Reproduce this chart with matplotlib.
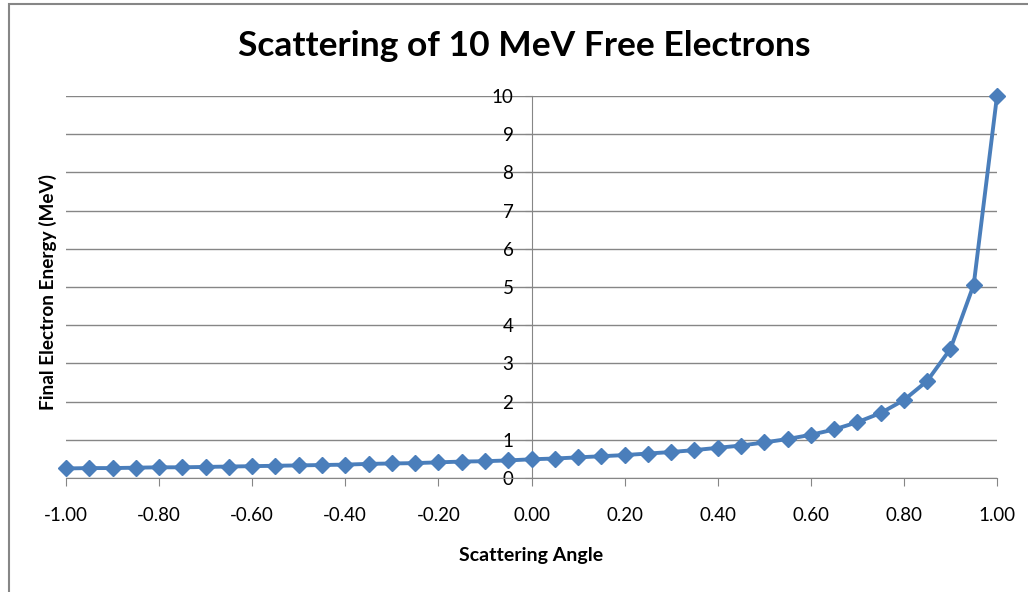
import matplotlib.pyplot as plt
from matplotlib.patches import Rectangle

plt.rcParams['font.family'] = ['Lato', 'DejaVu Sans']

# scattering angle (cosine) and final energy in MeV
angle = [-1.00, -0.95, -0.90, -0.85, -0.80, -0.75, -0.70, -0.65, -0.60, -0.55,
         -0.50, -0.45, -0.40, -0.35, -0.30, -0.25, -0.20, -0.15, -0.10, -0.05,
         0.00, 0.05, 0.10, 0.15, 0.20, 0.25, 0.30, 0.35, 0.40, 0.45,
         0.50, 0.55, 0.60, 0.65, 0.70, 0.75, 0.80, 0.85, 0.90, 0.95, 1.00]
energy = [0.25, 0.26, 0.26, 0.27, 0.28, 0.28, 0.29, 0.30, 0.31, 0.32,
          0.33, 0.34, 0.35, 0.37, 0.38, 0.39, 0.41, 0.43, 0.44, 0.46,
          0.49, 0.51, 0.54, 0.57, 0.60, 0.64, 0.68, 0.73, 0.79, 0.85,
          0.93, 1.02, 1.13, 1.27, 1.46, 1.70, 2.04, 2.54, 3.38, 5.06, 10.00]
xticks = [-1.0, -0.8, -0.6, -0.4, -0.2, 0.0, 0.2, 0.4, 0.6, 0.8, 1.0]
yticks = list(range(0, 11))

blue = '#4A7EBB'
gray = '#868686'

fig = plt.figure(figsize=(10.28, 5.92), dpi=100)
ax = fig.add_axes([66/1028, 1 - 478/592, (997 - 66)/1028, (478 - 96)/592])

ax.plot(angle, energy, color=blue, lw=2.8, marker='D', ms=8.5, mec=blue, mfc=blue,
        zorder=3, clip_on=False)

ax.set_xlim(-1, 1)
ax.set_ylim(0, 10)
ax.set_xticks(xticks)
ax.set_xticklabels([f'{t:.2f}' for t in xticks])
ax.set_yticks(yticks)
ax.yaxis.grid(True, color=gray, lw=1)
ax.set_axisbelow(True)

for s in ['top', 'right']:
    ax.spines[s].set_visible(False)
ax.spines['left'].set_position(('data', 0))
ax.spines['left'].set_color(gray)
ax.spines['bottom'].set_color(gray)
ax.tick_params(axis='x', direction='out', length=6, color=gray, pad=15,
               labelsize=13.5, labelcolor='black')
ax.tick_params(axis='y', direction='out', length=5, color=gray, pad=8,
               labelsize=13.5, labelcolor='black')

fig.text(524/1028, 1 - 46/592, 'Scattering of 10 MeV Free Electrons',
         ha='center', va='center', fontsize=25.5, fontweight='bold')
fig.text(531/1028, 1 - 555/592, 'Scattering Angle', ha='center', va='center',
         fontsize=14, fontweight='bold')
fig.text(48/1028, 1 - 292/592, 'Final Electron Energy (MeV)', ha='center',
         va='center', rotation=90, fontsize=13.7, fontweight='bold')

# chart border
fig.patches.append(Rectangle((9/1028, -0.05), 1.2, 1 - 4/592 + 0.05,
                             transform=fig.transFigure, fill=False,
                             ec=gray, lw=1.5))

fig.savefig('out.png', dpi=100)
